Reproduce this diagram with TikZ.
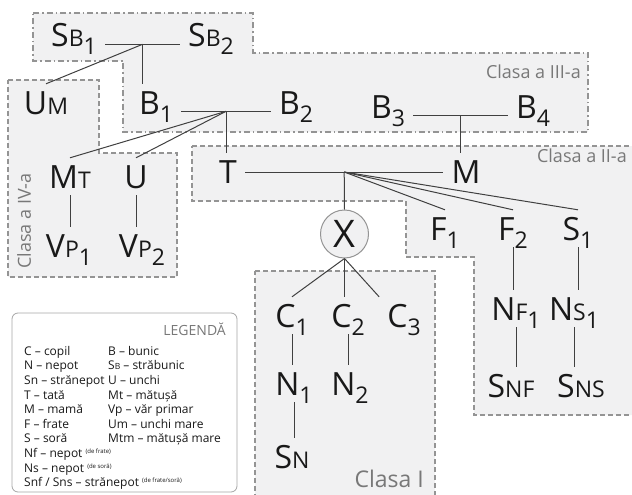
\documentclass[tikz,border=0pt]{standalone}
\usepackage{fontspec}
\setmainfont{Open Sans}
\usetikzlibrary{calc}
\definecolor{BoxClr}{rgb}{0.58,0.58,0.58}
\definecolor{BoxFill}{rgb}{0.945,0.945,0.95}
\definecolor{TagClr}{rgb}{0.47,0.47,0.47}
\definecolor{LinkClr}{rgb}{0.25,0.25,0.25}
\newcommand\kinsm[1]{{\fontsize{23}{23}\selectfont #1}}
\newcommand\kinsub[1]{\raisebox{-8pt}{\fontsize{23}{23}\selectfont #1}}
\newcommand\legsup[1]{\raisebox{4pt}{\fontsize{6}{6}\selectfont (#1)}}

\begin{document}
\begin{tikzpicture}[x=1pt,y=-1pt,
  kin/.style={anchor=base,font=\fontsize{32}{32}\selectfont,text=black!90,
    text height=28pt,text depth=5pt,inner xsep=8pt,inner ysep=2pt},
  link/.style={draw=LinkClr,line width=1pt},
  classbox/.style={draw=BoxClr,fill=BoxFill,line width=1.4pt,dash pattern=on 5pt off 3pt},
  classtag/.style={text=TagClr,font=\fontsize{18}{18}\selectfont,inner sep=0pt}]
\useasboundingbox (0,0) rectangle (632,495);
\clip (0,0) rectangle (632,495);

% The four classes of kinship.
\draw[classbox,dash pattern=on 6pt off 3pt on 1.5pt off 3pt] (33,13) -- (253,13) -- (253,53) -- (588,53) -- (588,132) -- (123,132) -- (123,61) -- (33,61) -- cycle;
\draw[classbox] (8,80) -- (99,80) -- (99,153) -- (177,153) -- (177,277) -- (8,277) -- cycle;
\draw[classbox] (192,146) -- (640,146) -- (640,415) -- (474,415) -- (474,257) -- (406,257) -- (406,201) -- (192,201) -- cycle;
\draw[classbox] (255,271) -- (435,271) -- (435,505) -- (255,505) -- cycle;

\node[classtag,anchor=base east] (tag3) at (581,78) {Clasa a III-a};
\node[classtag,anchor=base east] (tag2) at (627,162) {Clasa a II-a};
\node[classtag,rotate=90] (tag4) at (24,221) {Clasa a IV-a};
\node[classtag,anchor=base east,font=\fontsize{23}{23}\selectfont] (tag1) at (424,487) {Clasa I};

\node[kin] (sb1) at (74,47) {S\kinsm{B}\kinsub{1}};
\node[kin] (sb2) at (211,47) {S\kinsm{B}\kinsub{2}};
\node[kin] (um) at (46,114) {U\kinsm{M}};
\node[kin] (b1) at (156,114) {B\kinsub{1}};
\node[kin] (b2) at (296,114) {B\kinsub{2}};
\node[kin] (b3) at (388,118) {B\kinsub{3}};
\node[kin] (b4) at (533,118) {B\kinsub{4}};
\node[kin] (t) at (228,183.5) {T};
\node[kin] (m) at (466,183.5) {M};
\node[kin] (mt) at (70,188) {M\kinsm{T}};
\node[kin] (u) at (136,188) {U};
\node[kin] (vp1) at (69,257) {V\kinsm{P}\kinsub{1}};
\node[kin] (vp2) at (142,257) {V\kinsm{P}\kinsub{2}};
\node[draw=BoxClr,fill=BoxFill,circle,minimum size=48pt,inner sep=0pt,line width=1pt,
  font=\fontsize{38}{38}\selectfont,text=black!90] (x) at (344.5,234) {X};
\node[kin] (f1) at (445,240) {F\kinsub{1}};
\node[kin] (f2) at (513,240) {F\kinsub{2}};
\node[kin] (s1) at (578,240) {S\kinsub{1}};
\node[kin] (nf1) at (516,320) {N\kinsm{F}\kinsub{1}};
\node[kin] (ns1) at (574,320) {N\kinsm{S}\kinsub{1}};
\node[kin] (snf) at (511,397) {S\kinsm{NF}};
\node[kin] (sns) at (581,397) {S\kinsm{NS}};
\node[kin] (c1) at (292,327) {C\kinsub{1}};
\node[kin] (c2) at (348,327) {C\kinsub{2}};
\node[kin] (c3) at (404,327) {C\kinsub{3}};
\node[kin] (n1) at (294,395) {N\kinsub{1}};
\node[kin] (n2) at (350,395) {N\kinsub{2}};
\node[kin] (sn) at (292,468) {S\kinsm{N}};

% Couples and the points their children hang from.
\coordinate (j1) at ($(sb1.mid east)!.5!(sb2.mid west)$);
\coordinate (j2) at ($(b1.mid east)!.5!(b2.mid west)$);
\coordinate (j3) at ($(b3.mid east)!.5!(b4.mid west)$);
\coordinate (j4) at ($(t.east)!.5!(m.west)$);

\draw[link] (sb1.mid east) -- (sb2.mid west);
\draw[link] (j1) -- (j1 |- b1.north);
\draw[link] (j1) -- (um.north);
\draw[link] (b1.mid east) -- (b2.mid west);
\draw[link] (j2) -- (j2 |- t.north);
\draw[link] (j2) -- (mt.north);
\draw[link] (j2) -- (u.north);
\draw[link] (b3.mid east) -- (b4.mid west);
\draw[link] (j3) -- (j3 |- m.north);
\draw[link] (t.east) -- (m.west);
\draw[link] (j4) -- (x.north);
\draw[link] (j4) -- (f1.north);
\draw[link] (j4) -- (f2.north);
\draw[link] (j4) -- (s1.north);

\draw[link] (mt.south) -- (mt.south |- vp1.north);
\draw[link] (u.south) -- (u.south |- vp2.north);
\draw[link] (x.south) -- (c1.north);
\draw[link] (x.south) -- (x.south |- c2.north);
\draw[link] (x.south) -- (c3.north west);
\draw[link] (c1.south) -- (c1.south |- n1.north);
\draw[link] (c2.south) -- (c2.south |- n2.north);
\draw[link] (n1.south) -- (n1.south |- sn.north);
\draw[link] (f2.south) -- (f2.south |- nf1.north);
\draw[link] (s1.south) -- (s1.south |- ns1.north);
\draw[link] (nf1.south) -- (nf1.south |- snf.north);
\draw[link] (ns1.south) -- (ns1.south |- sns.north);

% Legend
\draw[draw=black!35,fill=white,rounded corners=6pt,line width=0.8pt] (12,313) rectangle (237,492);
\node[anchor=base east,text=TagClr,font=\fontsize{14}{14}\selectfont,inner sep=0pt] (legtitle) at (226,335) {LEGENDĂ};
\node[anchor=north west,inner sep=0pt,font=\fontsize{12}{14.6}\selectfont,text=black!90] (legtab) at (24,344.8) {%
\begin{tabular}{@{}p{84pt}@{}l@{}}
C – copil & B – bunic \\
N – nepot & S{\fontsize{8.5}{8.5}\selectfont B} – străbunic \\
Sn – strănepot & U – unchi \\
T – tată & Mt – mătușă \\
M – mamă & Vp – văr primar \\
F – frate & Um – unchi mare \\
S – soră & Mtm – mătușă mare \\
\multicolumn{2}{@{}l@{}}{Nf – nepot \legsup{de frate}} \\
\multicolumn{2}{@{}l@{}}{Ns – nepot \legsup{de soră}} \\
\multicolumn{2}{@{}l@{}}{Snf / Sns – strănepot \legsup{de frate/soră}}
\end{tabular}};

\end{tikzpicture}
\end{document}
